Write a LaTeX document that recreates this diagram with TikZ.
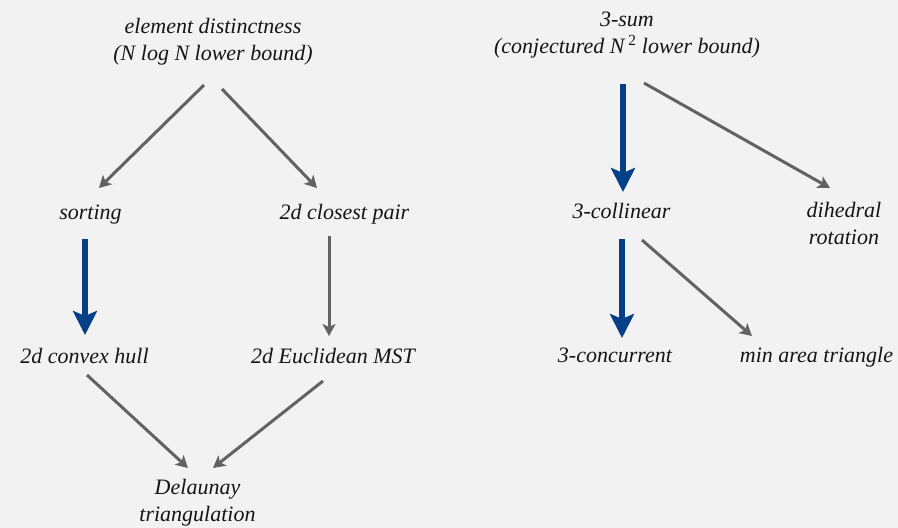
\documentclass[tikz,border=0pt]{standalone}
\usepackage{fontspec}
\setmainfont{Liberation Serif}
\usetikzlibrary{arrows.meta}
\definecolor{bgpanel}{HTML}{F2F2F2}
\definecolor{redgray}{HTML}{626262}
\definecolor{redblue}{HTML}{053F87}
\definecolor{labelink}{HTML}{151515}
\tikzset{
  lbl/.style={anchor=base, inner sep=0pt, align=center, text=labelink,
    font=\fontsize{22}{26.5}\selectfont\itshape},
  reduce/.style={draw=redgray, line width=3pt,
    -{Stealth[length=12pt, width=13pt, inset=3pt]}},
  strong/.style={draw=redblue, line width=6pt,
    -{Stealth[length=24pt, width=24pt, inset=5pt]}},
}
\begin{document}
\begin{tikzpicture}[x=1pt, y=-1pt]
  \fill[bgpanel] (0,0) rectangle (898,528);
  \useasboundingbox (0,0) rectangle (898,528);

  % left family: element distinctness (two-line labels sit on their last baseline)
  \node[lbl] (ed)   at (213,60)    {element distinctness\\(N log N lower bound)};
  \node[lbl] (sort) at (90.5,219)  {sorting};
  \node[lbl] (cp)   at (344.5,219) {2d closest pair};
  \node[lbl] (ch)   at (84.5,363)  {2d convex hull};
  \node[lbl] (mst)  at (333,363)   {2d Euclidean MST};
  \node[lbl] (del)  at (197.5,521) {Delaunay\\triangulation};

  % right family: 3-sum
  \node[lbl] (sum)  at (627,53)    {3-sum\\(conjectured N\,\textsuperscript{\upshape 2} lower bound)};
  \node[lbl] (col)  at (621.5,218) {3-collinear};
  \node[lbl] (dih)  at (844,244)   {dihedral\\rotation};
  \node[lbl] (conc) at (615,362)   {3-concurrent};
  \node[lbl] (mina) at (816.5,362) {min area triangle};

  % reductions
  \draw[reduce] ([shift={(-9,25)}]ed.base)    -- ([shift={(8.5,-31)}]sort.base);
  \draw[reduce] ([shift={(9,29)}]ed.base)     -- ([shift={(-27.5,-31)}]cp.base);
  \draw[strong] ([shift={(-5.5,20)}]sort.base) -- ([shift={(0.5,-28)}]ch.base);
  \draw[reduce] ([shift={(-15.5,17)}]cp.base) -- ([shift={(-4,-27)}]mst.base);
  \draw[reduce] ([shift={(2.5,12)}]ch.base)   -- ([shift={(-9.5,-53)}]del.base);
  \draw[reduce] ([shift={(-10,18)}]mst.base)  -- ([shift={(15.5,-53)}]del.base);

  \draw[strong] ([shift={(-4,31)}]sum.base)   -- ([shift={(1.5,-26)}]col.base);
  \draw[reduce] ([shift={(17,30)}]sum.base)   -- ([shift={(-14,-56)}]dih.base);
  \draw[strong] ([shift={(0.5,21)}]col.base)  -- ([shift={(7,-24)}]conc.base);
  \draw[reduce] ([shift={(20.5,22)}]col.base) -- ([shift={(-64.5,-26)}]mina.base);
\end{tikzpicture}
\end{document}
